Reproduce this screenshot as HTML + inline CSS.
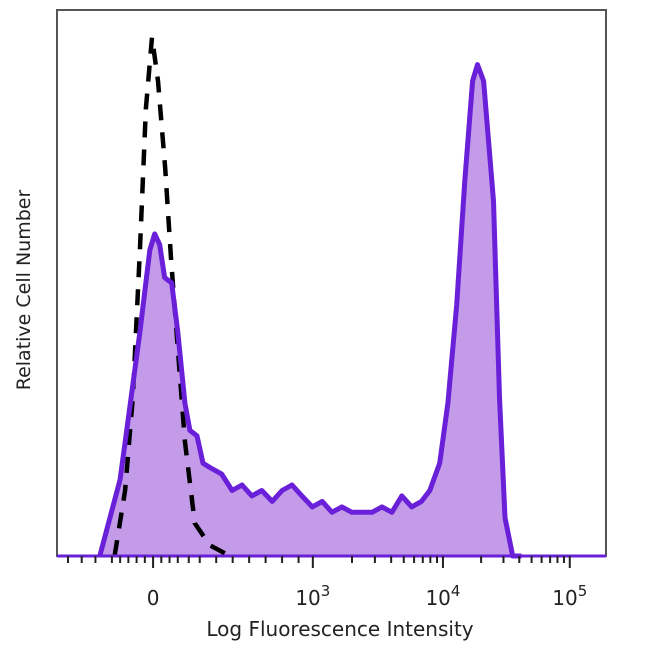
<!DOCTYPE html>
<html><head><meta charset="utf-8"><style>
body{margin:0;background:#fff;width:650px;height:650px;overflow:hidden}
svg{display:block;font-family:"DejaVu Sans","Liberation Sans",sans-serif}
</style></head><body>
<svg id="chart" width="650" height="650">
<rect x="57" y="10" width="549" height="546" fill="#fff" stroke="#555" stroke-width="2"/>
<g id="series"></g>
<g id="axis"></g>
<text x="340" y="636" font-size="20" text-anchor="middle" fill="#222">Log Fluorescence Intensity</text>
<text transform="translate(30,290) rotate(-90)" font-size="19" text-anchor="middle" fill="#222">Relative Cell Number</text>
</svg>
<script>
// x in display channels (0..1000), y relative counts (0..100)
const stainedX=[78,115,151,169,178,187,196,209,220,233,242,255,266,282,300,319,337,355,373,392,410,428,446,465,483,501,519,537,556,574,592,610,628,646,664,679,697,712,728,743,757,766,777,795,806,816,830,846];
const stainedY=[0,14,41,56,59,57,51,50,41,28,23,22,17,16,15,12,13,11,12,10,12,13,11,9,10,8,9,8,8,8,9,8,11,9,10,12,17,28,46,69,87,90,87,65,29,7,0,0];
const isoX=[105,124,138,151,162,173,184,197,208,220,233,251,278,315];
const isoY=[0,12,29,56,82,95,87,71,54,38,21,6,2,0];
const tickVals=[175,466,703,934];
const tickLabels=[["0",""],["10","3"],["10","4"],["10","5"]];
const X0=57,W=549,Y0=556,H=546;
const sx=c=>X0+c*W/1000, sy=v=>Y0-v*H/100;
const ns="http://www.w3.org/2000/svg";
const g=document.getElementById('series');
function pts(xs,ys){return xs.map((x,i)=>sx(x).toFixed(1)+','+sy(ys[i]).toFixed(1)).join(' ');}
const fill=document.createElementNS(ns,'polygon');


fill.setAttribute('points',pts(stainedX,stainedY)+' '+sx(stainedX[stainedX.length-1])+','+Y0+' '+sx(stainedX[0])+','+Y0);
fill.setAttribute('fill','#c39be9');
g.appendChild(fill);
const iso=document.createElementNS(ns,'polyline');


iso.setAttribute('points',pts(isoX,isoY));
iso.setAttribute('fill','none');iso.setAttribute('stroke','#000');iso.setAttribute('stroke-width','4.5');
iso.setAttribute('stroke-dasharray','16,12');
g.appendChild(iso);
const line=document.createElementNS(ns,'polyline');


line.setAttribute('points',pts(stainedX,stainedY));
line.setAttribute('fill','none');line.setAttribute('stroke','#6a1fd8');line.setAttribute('stroke-width','5');
line.setAttribute('stroke-linejoin','round');
g.appendChild(line);
const base=document.createElementNS(ns,'line');


base.setAttribute('x1',X0);base.setAttribute('x2',X0+W);base.setAttribute('y1',Y0);base.setAttribute('y2',Y0);
base.setAttribute('stroke','#6a1fd8');base.setAttribute('stroke-width','3');
g.appendChild(base);
const a=document.getElementById('axis');
tickVals.forEach((v,i)=>{
  const t=document.createElementNS(ns,'text');
  
  
  t.setAttribute('x',sx(v));t.setAttribute('y',605);t.setAttribute('font-size','20');
  t.setAttribute('text-anchor','middle');t.setAttribute('fill','#222');
  t.textContent=tickLabels[i][0];
  if(tickLabels[i][1]){const s=document.createElementNS(ns,'tspan');s.setAttribute('dy','-9');s.setAttribute('font-size','15');s.textContent=tickLabels[i][1];t.appendChild(s);}
  a.appendChild(t);
  const m=document.createElementNS(ns,'line');
  
  
  m.setAttribute('x1',sx(v));m.setAttribute('x2',sx(v));m.setAttribute('y1',Y0);m.setAttribute('y2',Y0+12);
  m.setAttribute('stroke','#222');m.setAttribute('stroke-width','2');
  a.appendChild(m);
});
const minorFactors=[2,3,4,5,6,7,8,9];
for(let d=1;d<tickVals.length;d++){
  const lo=tickVals[d], step=(d<3?tickVals[d+1]-tickVals[d]:tickVals[3]-tickVals[2]);
  minorFactors.forEach(f=>{
    const c=lo+Math.log10(f)*step; if(c>1000)return;
    const m=document.createElementNS(ns,'line');
    
    
    m.setAttribute('x1',sx(c));m.setAttribute('x2',sx(c));m.setAttribute('y1',Y0);m.setAttribute('y2',Y0+7);
    m.setAttribute('stroke','#222');m.setAttribute('stroke-width','2');
    a.appendChild(m);
  });
}
[20,45,70,100,115,130,145,160,190,205,220,240,260,290,320,350,380,410,440].forEach(c=>{
  const m=document.createElementNS(ns,'line');
  
  
  m.setAttribute('x1',sx(c));m.setAttribute('x2',sx(c));m.setAttribute('y1',Y0);m.setAttribute('y2',Y0+7);
  m.setAttribute('stroke','#222');m.setAttribute('stroke-width','2');
  a.appendChild(m);
});
</script>
</body></html>
